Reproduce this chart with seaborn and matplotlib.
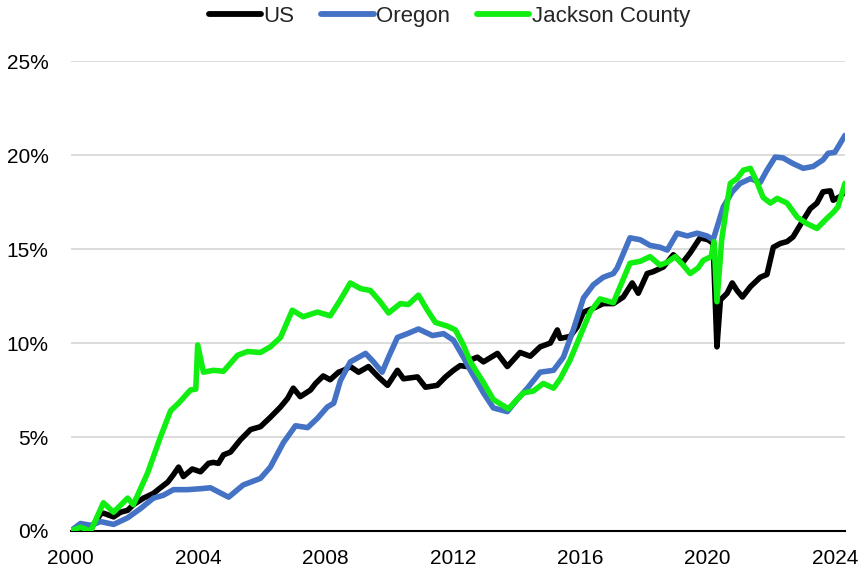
import numpy as np
import pandas as pd
import matplotlib
matplotlib.use("Agg")
import matplotlib.pyplot as plt
import seaborn as sns
from matplotlib.ticker import PercentFormatter, FixedLocator

# ---- data (cumulative change, %) ----
us_year = [2000.00, 2000.31, 2000.63, 2000.94, 2001.03, 2001.35, 2001.57, 2001.79, 2001.97,
           2002.29, 2002.60, 2002.82, 2003.05, 2003.23, 2003.39, 2003.54, 2003.82, 2004.08,
           2004.33, 2004.48, 2004.64, 2004.80, 2005.02, 2005.33, 2005.65, 2005.96, 2006.27,
           2006.59, 2006.81, 2006.99, 2007.21, 2007.53, 2007.69, 2007.93, 2008.15, 2008.41,
           2008.57, 2008.78, 2009.04, 2009.35, 2009.66, 2009.95, 2010.26, 2010.45, 2010.89,
           2011.14, 2011.51, 2011.77, 2012.02, 2012.23, 2012.45, 2012.55, 2012.77, 2012.96,
           2013.40, 2013.71, 2014.11, 2014.43, 2014.74, 2015.06, 2015.28, 2015.37, 2015.68,
           2015.90, 2016.10, 2016.41, 2016.72, 2017.04, 2017.35, 2017.63, 2017.82, 2018.10,
           2018.29, 2018.61, 2018.92, 2019.20, 2019.45, 2019.76, 2020.01, 2020.17, 2020.29,
           2020.40, 2020.61, 2020.77, 2020.92, 2021.09, 2021.34, 2021.65, 2021.86, 2022.06,
           2022.28, 2022.49, 2022.68, 2023.00, 2023.22, 2023.43, 2023.62, 2023.85, 2023.94,
           2024.16, 2024.31]
us_value = [0.0, 0.15, 0.1, 0.9, 0.95, 0.75, 1.0, 1.1, 1.4,
            1.75, 2.0, 2.3, 2.6, 3.0, 3.4, 2.9, 3.3, 3.15,
            3.6, 3.65, 3.6, 4.05, 4.2, 4.85, 5.4, 5.55, 6.05,
            6.6, 7.05, 7.6, 7.15, 7.5, 7.85, 8.25, 8.05, 8.45,
            8.55, 8.75, 8.45, 8.75, 8.2, 7.75, 8.55, 8.1, 8.2,
            7.65, 7.75, 8.2, 8.55, 8.8, 8.75, 9.1, 9.25, 9.0,
            9.45, 8.75, 9.5, 9.3, 9.8, 10.0, 10.7, 10.25, 10.35,
            10.85, 11.65, 11.85, 12.1, 12.1, 12.45, 13.2, 12.65, 13.7,
            13.8, 14.05, 14.7, 14.25, 14.8, 15.6, 15.5, 15.3, 9.8,
            12.3, 12.65, 13.2, 12.8, 12.45, 13.0, 13.5, 13.65, 15.1,
            15.3, 15.4, 15.65, 16.55, 17.15, 17.45, 18.05, 18.1, 17.6,
            17.8, 18.05]

or_year = [2000.00, 2000.31, 2000.63, 2000.94, 2001.35, 2001.79, 2002.20, 2002.60, 2002.91,
           2003.23, 2003.67, 2004.08, 2004.39, 2004.96, 2005.42, 2005.96, 2006.27, 2006.68,
           2007.06, 2007.44, 2007.75, 2008.06, 2008.26, 2008.47, 2008.78, 2009.26, 2009.51,
           2009.78, 2009.98, 2010.26, 2010.57, 2010.92, 2011.36, 2011.71, 2012.02, 2012.33,
           2012.55, 2012.96, 2013.27, 2013.71, 2014.02, 2014.34, 2014.74, 2015.16, 2015.47,
           2015.78, 2016.10, 2016.41, 2016.72, 2017.04, 2017.16, 2017.56, 2017.88, 2018.19,
           2018.50, 2018.73, 2019.04, 2019.36, 2019.67, 2019.98, 2020.17, 2020.30, 2020.49,
           2020.77, 2021.02, 2021.34, 2021.65, 2021.86, 2022.12, 2022.37, 2022.68, 2023.00,
           2023.31, 2023.62, 2023.78, 2023.99, 2024.31]
or_value = [0.0, 0.4, 0.3, 0.5, 0.35, 0.7, 1.2, 1.75, 1.9,
            2.2, 2.2, 2.25, 2.3, 1.8, 2.45, 2.8, 3.4, 4.7,
            5.6, 5.5, 6.0, 6.6, 6.8, 8.0, 9.0, 9.45, 9.0,
            8.45, 9.25, 10.3, 10.5, 10.75, 10.4, 10.5, 10.15, 9.25,
            8.55, 7.35, 6.55, 6.35, 7.0, 7.6, 8.45, 8.55, 9.25,
            10.7, 12.4, 13.1, 13.5, 13.7, 14.0, 15.6, 15.5, 15.2,
            15.1, 14.95, 15.85, 15.7, 15.85, 15.7, 15.5, 16.2, 17.25,
            18.05, 18.5, 18.75, 18.55, 19.2, 19.9, 19.85, 19.55, 19.3,
            19.4, 19.75, 20.1, 20.15, 21.05]

jc_year = [2000.00, 2000.31, 2000.63, 2001.03, 2001.35, 2001.79, 2001.97, 2002.42, 2002.82,
           2003.14, 2003.39, 2003.76, 2003.93, 2003.99, 2004.17, 2004.48, 2004.80, 2005.24,
           2005.55, 2005.96, 2006.27, 2006.59, 2006.96, 2007.30, 2007.75, 2008.15, 2008.47,
           2008.78, 2009.10, 2009.41, 2009.72, 2009.98, 2010.35, 2010.60, 2010.92, 2011.20,
           2011.45, 2011.83, 2012.08, 2012.33, 2012.55, 2012.96, 2013.27, 2013.74, 2014.02,
           2014.22, 2014.53, 2014.84, 2015.16, 2015.37, 2015.68, 2016.00, 2016.31, 2016.62,
           2017.04, 2017.25, 2017.56, 2017.88, 2018.19, 2018.50, 2018.73, 2018.98, 2019.20,
           2019.45, 2019.70, 2019.86, 2020.11, 2020.20, 2020.29, 2020.44, 2020.61, 2020.71,
           2020.92, 2021.12, 2021.34, 2021.55, 2021.74, 2021.97, 2022.18, 2022.49, 2022.81,
           2023.12, 2023.43, 2023.75, 2023.94, 2024.09, 2024.31]
jc_value = [0.0, 0.2, 0.0, 1.5, 1.0, 1.75, 1.4, 3.1, 5.0,
            6.4, 6.8, 7.5, 7.55, 9.9, 8.45, 8.55, 8.5, 9.35,
            9.55, 9.5, 9.8, 10.3, 11.75, 11.4, 11.65, 11.45, 12.3,
            13.2, 12.9, 12.8, 12.2, 11.6, 12.1, 12.05, 12.55, 11.75,
            11.1, 10.9, 10.7, 9.9, 9.0, 7.9, 7.0, 6.5, 7.0,
            7.35, 7.45, 7.85, 7.6, 8.1, 9.1, 10.4, 11.65, 12.35,
            12.15, 13.0, 14.25, 14.35, 14.6, 14.15, 14.3, 14.6, 14.2,
            13.7, 14.0, 14.4, 14.6, 15.4, 12.2, 15.5, 17.45, 18.5,
            18.75, 19.2, 19.3, 18.55, 17.75, 17.45, 17.7, 17.45, 16.7,
            16.35, 16.1, 16.65, 16.95, 17.25, 18.5]

series_names = ["US", "Oregon", "Jackson County"]
series_colors = ["#000000", "#4472C4", "#11EE11"]
year_ticks = [2000, 2004, 2008, 2012, 2016, 2020, 2024]
pct_ticks = [0, 5, 10, 15, 20, 25]

df = pd.concat([
    pd.DataFrame({"year": us_year, "value": us_value, "series": series_names[0]}),
    pd.DataFrame({"year": or_year, "value": or_value, "series": series_names[1]}),
    pd.DataFrame({"year": jc_year, "value": jc_value, "series": series_names[2]}),
], ignore_index=True)

sns.set_theme(style="white")
plt.rcParams["font.family"] = ["Liberation Sans", "DejaVu Sans"]

fig = plt.figure(figsize=(8.61, 5.72), dpi=100)
ax = fig.add_axes([0.082, 0.0717, 0.8994, 0.8213])

sns.lineplot(data=df, x="year", y="value", hue="series", hue_order=series_names,
             palette=dict(zip(series_names, series_colors)), estimator=None, sort=False,
             linewidth=4.0, ax=ax, legend=True)
for ln in ax.get_lines():
    ln.set_solid_capstyle("round")
    ln.set_solid_joinstyle("round")

ax.set_xlim(2000, 2024.31)
ax.set_ylim(0, 25)
ax.xaxis.set_major_locator(FixedLocator(year_ticks))
ax.set_xticklabels([str(y) for y in year_ticks])
ax.yaxis.set_major_locator(FixedLocator(pct_ticks))
ax.yaxis.set_major_formatter(PercentFormatter(decimals=0))
ax.set_xlabel("")
ax.set_ylabel("")
ax.grid(axis="y", color="#d9d9d9", linewidth=1.3)
ax.grid(axis="x", visible=False)
ax.set_axisbelow(True)
for s in ["top", "right", "left"]:
    ax.spines[s].set_visible(False)
ax.spines["bottom"].set_color("black")
ax.spines["bottom"].set_linewidth(1.5)
ax.spines["bottom"].set_zorder(1)
ax.tick_params(axis="y", length=0, pad=16, labelsize=15, colors="#000000")
ax.tick_params(axis="x", length=0, pad=13, labelsize=15, colors="#000000")

handles, labels = ax.get_legend_handles_labels()
ax.get_legend().remove()
leg = fig.legend(handles, labels, loc="upper center", bbox_to_anchor=(0.522, 1.025),
                 ncol=3, frameon=False, fontsize=16, handlelength=2.35,
                 handletextpad=0.12, columnspacing=1.2)
for h in leg.get_lines():
    h.set_linewidth(4.2)
    h.set_solid_capstyle("round")

fig.savefig("out.png", dpi=100, facecolor="white")
